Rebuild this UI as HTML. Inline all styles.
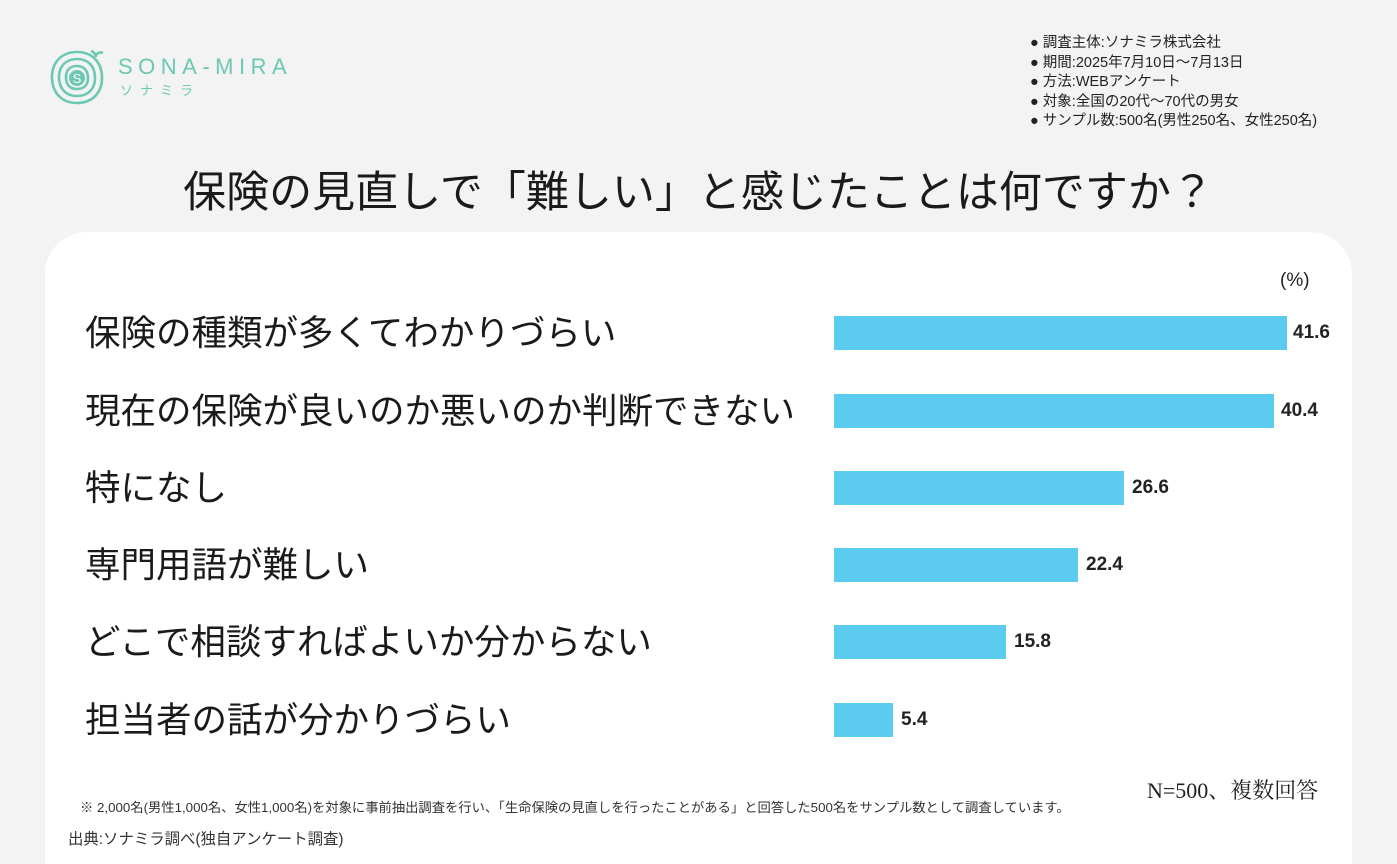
<!DOCTYPE html>
<html><head><meta charset="utf-8"><style>
html,body{margin:0;width:1397px;height:864px;overflow:hidden}
body{background:#f2f3f2;font-family:"Liberation Sans","Noto Sans CJK JP",sans-serif;position:relative;color:#222}
.a{position:absolute;white-space:nowrap}
.card{position:absolute;left:45px;top:232px;width:1307px;height:632px;background:#fff;border-radius:42px 42px 0 0}
.lab{position:absolute;left:85px;font-size:35.5px;line-height:40px;color:#1a1a1a}
.bar{position:absolute;left:834px;height:34px;background:#5ccbf0}
.val{position:absolute;font-size:19px;font-weight:bold;line-height:24px;color:#222}
.notes{left:1030px;top:34px;font-size:14.5px;line-height:19.5px;color:#222}
</style></head><body>
<svg class="a" style="left:48px;top:48px" width="58" height="58" viewBox="0 0 58 58">
<g fill="none" stroke="#6cc8b3" stroke-width="2.6">
<path d="M29 4 C45 4 54 15 54 30 C54 46 43 55 29 55 C14 55 4 45 4 29 C4 14 14 4 29 4"/>
<path d="M29 11 C41 11 47 19 47 30 C47 41 40 48 29 48 C18 48 11 41 11 29 C11 18 18 11 29 11"/>
<path d="M29 18 C37 18 40 24 40 30 C40 37 36 41 29 41 C22 41 18 37 18 29 C18 22 22 18 29 18"/>
<path d="M47 8 q4 -5 8 -3 M48 9 q-1 -5 -5 -6"/>
</g>
<circle cx="29" cy="30" r="8" fill="#6cc8b3"/>
<text x="29" y="35" font-size="13" fill="#fff" text-anchor="middle" font-family="Liberation Sans">S</text>
</svg>
<div class="a" style="left:118px;top:54px;font-size:22px;letter-spacing:5.5px;color:#6cc8b3">SONA-MIRA</div>
<div class="a" style="left:120px;top:80px;font-size:13px;letter-spacing:7px;color:#6cc8b3">ソナミラ</div>
<div class="a notes">● 調査主体:ソナミラ株式会社<br>● 期間:2025年7月10日～7月13日<br>● 方法:WEBアンケート<br>● 対象:全国の20代～70代の男女<br>● サンプル数:500名(男性250名、女性250名)</div>
<div class="a" style="left:0;width:1397px;text-align:center;top:165px;font-size:43px;line-height:56px;color:#1a1a1a">保険の見直しで「難しい」と感じたことは何ですか？</div>
<div class="card"></div>
<div class="a" style="left:1280px;top:270px;font-size:19px">(%)</div>
<div class="lab" style="top:313px">保険の種類が多くてわかりづらい</div>
<div class="lab" style="top:391px">現在の保険が良いのか悪いのか判断できない</div>
<div class="lab" style="top:468px">特になし</div>
<div class="lab" style="top:545px">専門用語が難しい</div>
<div class="lab" style="top:622px">どこで相談すればよいか分からない</div>
<div class="lab" style="top:700px">担当者の話が分かりづらい</div>
<div class="bar" style="top:316px;width:453px"></div><div class="val" style="left:1293px;top:321px">41.6</div>
<div class="bar" style="top:394px;width:440px"></div><div class="val" style="left:1281px;top:399px">40.4</div>
<div class="bar" style="top:471px;width:290px"></div><div class="val" style="left:1132px;top:476px">26.6</div>
<div class="bar" style="top:548px;width:244px"></div><div class="val" style="left:1086px;top:553px">22.4</div>
<div class="bar" style="top:625px;width:172px"></div><div class="val" style="left:1014px;top:630px">15.8</div>
<div class="bar" style="top:703px;width:59px"></div><div class="val" style="left:901px;top:708px">5.4</div>
<div class="a" style="left:1147px;top:774px;font-size:22px;font-family:'Liberation Serif','Noto Serif CJK SC',serif">N=500、複数回答</div>
<div class="a" style="left:80px;top:797px;font-size:13.3px;color:#333">※ 2,000名(男性1,000名、女性1,000名)を対象に事前抽出調査を行い、「生命保険の見直しを行ったことがある」と回答した500名をサンプル数として調査しています。</div>
<div class="a" style="left:68px;top:827px;font-size:15.4px;color:#333">出典:ソナミラ調べ(独自アンケート調査)</div>
</body></html>
